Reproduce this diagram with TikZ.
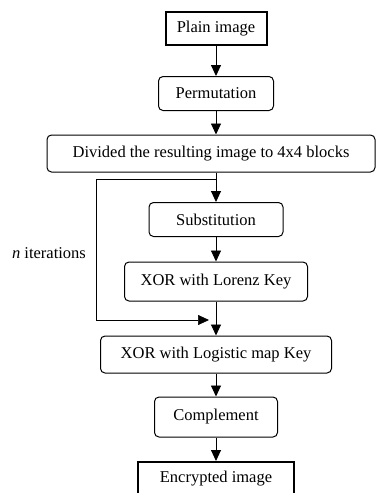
\documentclass[tikz,border=0pt]{standalone}
\usepackage{fontspec}
\setmainfont{Liberation Serif}
\usetikzlibrary{arrows.meta,calc,positioning}

\begin{document}
\begin{tikzpicture}[
        x=1pt, y=-1pt,
        font=\fontsize{16.5}{19}\selectfont,
        stepbox/.style = {draw, rounded corners=4.5pt, line width=1pt,
            minimum height=34pt, inner sep=2pt},
        imagebox/.style = {draw, line width=2pt, minimum height=33pt, inner sep=2pt},
        flow/.style = {-{Triangle[width=10pt,length=11pt]}, line width=0.9pt},
    ]
    \useasboundingbox (0,0) rectangle (377,493);
    \clip (0,0) rectangle (377,493);
    \node[imagebox, minimum width=101pt] (plain) at (216,28.5) {Plain image};
    \node[stepbox, minimum width=115pt] (perm) at (216,93.5) {Permutation};
    \node[stepbox, minimum width=328pt, minimum height=37pt] (blocks) at (211,153.5) {Divided the resulting image to 4x4 blocks};
    \node[stepbox, minimum width=134pt] (subst) at (216,219.5) {Substitution};
    \node[stepbox, minimum width=183pt, minimum height=39pt] (lorenz) at (216,281.5) {XOR with Lorenz Key};
    \node[stepbox, minimum width=231pt, minimum height=37pt] (logistic) at (216,354.5) {XOR with Logistic map Key};
    \node[stepbox, minimum width=123pt, minimum height=40pt] (compl) at (216,417) {Complement};
    \node[imagebox, minimum width=156pt] (encr) at (216,478.5) {Encrypted image};
    \node (iter) at (49,253) {\textit{n} iterations};
    \coordinate (fork) at (216,179);
    \coordinate (merge) at (209,320);

    \draw[flow] (plain) -- (perm);
    \draw[flow] (perm) -- (perm |- blocks.north);
    \draw[flow] (blocks.south -| subst.north) -- (subst);
    \draw[flow] (subst) -- (lorenz);
    \draw[flow] (lorenz) -- (logistic);
    \draw[flow] (logistic) -- (compl);
    \draw[flow] (compl) -- (encr);
    \draw[flow, line width=0.7pt] (fork) -- (96,179) -- (96,320) -- (merge);
\end{tikzpicture}
\end{document}
